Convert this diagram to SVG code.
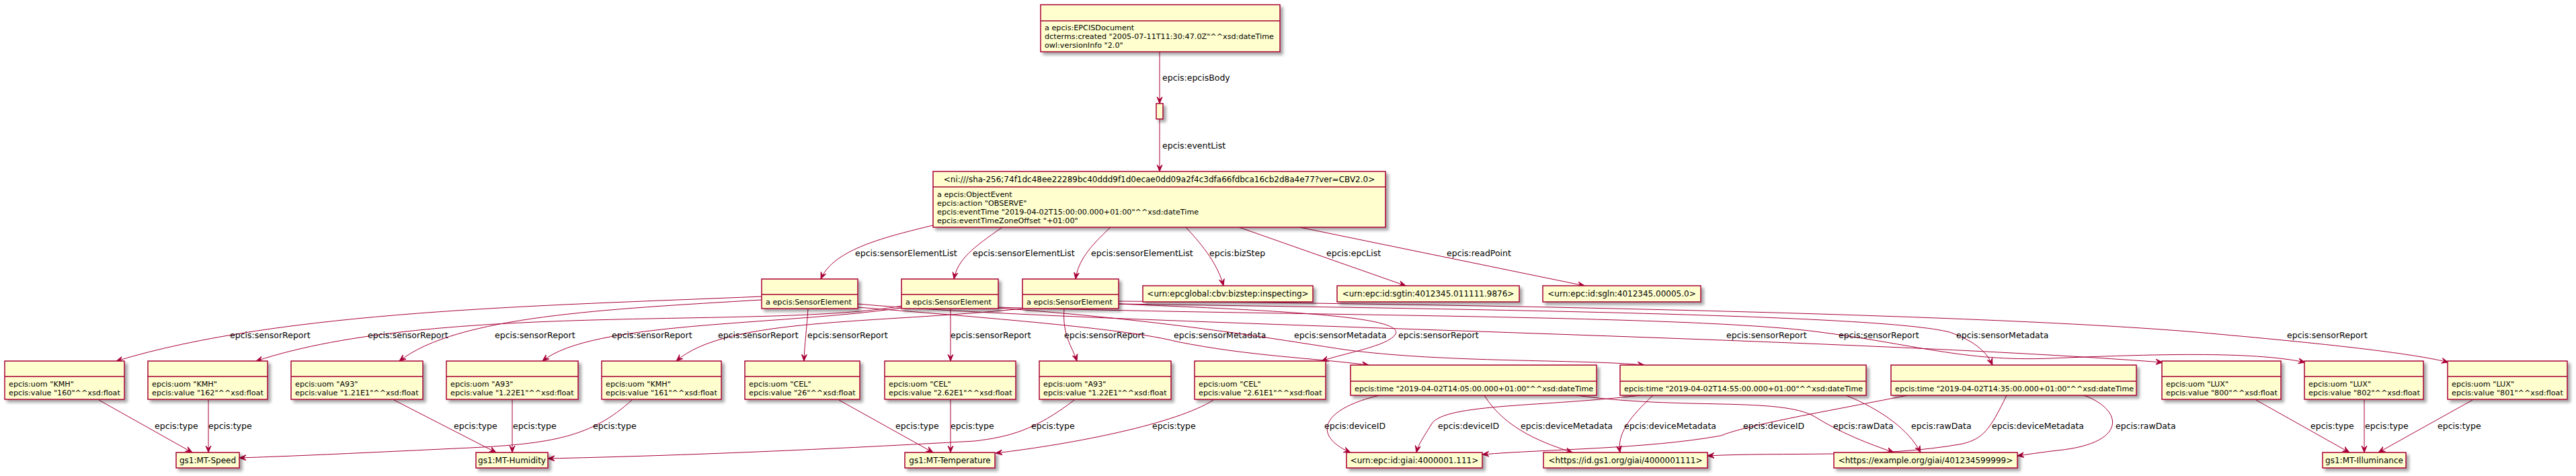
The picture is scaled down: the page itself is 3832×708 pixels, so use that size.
<svg xmlns="http://www.w3.org/2000/svg" width="3832" height="708" viewBox="0 0 3832 708">
<style>
.n rect{fill:#FEFECE;stroke:#A80036;stroke-width:1.5;filter:url(#sh)}
.n line{stroke:#A80036;stroke-width:1.5}
text{font-family:"DejaVu Sans","Liberation Sans",sans-serif;fill:#000}
.a{font-size:11.2px}
.h{font-size:12px;text-anchor:middle}
.e path{fill:none;stroke:#A80036;stroke-width:1;marker-end:url(#ah)}
.e text{font-size:12.5px}
</style>
<defs>
<filter id="sh" filterUnits="userSpaceOnUse" x="0" y="0" width="3832" height="708">
<feGaussianBlur in="SourceAlpha" stdDeviation="2"/>
<feOffset dx="4" dy="4" result="o"/>
<feComponentTransfer in="o" result="s"><feFuncA type="linear" slope="0.35"/></feComponentTransfer>
<feMerge><feMergeNode in="s"/><feMergeNode in="SourceGraphic"/></feMerge>
</filter>
<marker id="ah" markerUnits="userSpaceOnUse" markerWidth="11" markerHeight="10" refX="10" refY="5" orient="auto" viewBox="0 0 11 10">
<path d="M10,5 L0,1 L4,5 L0,9 Z" fill="#A80036" stroke="#A80036" stroke-width="1"/>
</marker>
</defs>
<rect width="3832" height="708" fill="#FFFFFF"/>

<g id="connectors" class="e">
<path d="M1725,77 L1725,154"/><text x="1729" y="120">epcis:epcisBody</text>
<path d="M1725,177 L1725,255"/><text x="1729" y="221">epcis:eventList</text>
<path d="M1388,335 C1320,352 1240,370 1221,415"/><text x="1272" y="381">epcis:sensorElementList</text>
<path d="M1491,338 C1448,368 1425,385 1419,415"/><text x="1447" y="381">epcis:sensorElementList</text>
<path d="M1652,338 C1620,368 1604,388 1600,415"/><text x="1623" y="381">epcis:sensorElementList</text>
<path d="M1764,338 C1792,368 1812,395 1820,425"/><text x="1799" y="381">epcis:bizStep</text>
<path d="M1843,338 L2091,425"/><text x="1973" y="381">epcis:epcList</text>
<path d="M1933,338 L2357,425"/><text x="2152" y="381">epcis:readPoint</text>

<path d="M1133,441 C800,455 420,462 173,537"/><text x="342" y="503">epcis:sensorReport</text>
<path d="M1341,455 C1150,490 650,448 381,537"/><text x="547" y="503">epcis:sensorReport</text>
<path d="M1133,446 C900,460 680,470 594,537"/><text x="736" y="503">epcis:sensorReport</text>
<path d="M1341,458 C1150,485 880,478 807,537"/><text x="910" y="503">epcis:sensorReport</text>
<path d="M1521,459 C1300,482 1080,472 1006,537"/><text x="1068" y="503">epcis:sensorReport</text>
<path d="M1202,459 C1200,490 1197,510 1196,537"/><text x="1201" y="503">epcis:sensorReport</text>
<path d="M1414,459 L1414,537"/><text x="1414" y="503">epcis:sensorReport</text>
<path d="M1583,459 C1580,500 1595,515 1602,537"/><text x="1583" y="503">epcis:sensorReport</text>
<path d="M1664,452 C1900,462 2090,470 2076,497 C2065,515 2000,525 1966,537"/><text x="2080" y="503">epcis:sensorReport</text>
<path d="M1276,452 C1600,482 2700,500 3217,539"/><text x="2568" y="503">epcis:sensorReport</text>
<path d="M1485,457 C1900,470 2500,468 2700,493 C2850,512 2920,538 3050,533 C3200,527 3350,522 3429,539"/><text x="2735" y="503">epcis:sensorReport</text>
<path d="M1664,448 C2200,452 3000,468 3300,497 C3500,515 3600,528 3642,539"/><text x="3402" y="503">epcis:sensorReport</text>
<path d="M1276,457 C1500,475 1680,490 1750,508 C1860,530 1950,532 2036,543"/><text x="1746" y="503">epcis:sensorMetadata</text>
<path d="M1485,458 C1750,478 1900,505 2000,520 C2150,540 2350,534 2446,543"/><text x="1925" y="503">epcis:sensorMetadata</text>
<path d="M1664,452 C2200,460 2800,468 2900,494 C2940,508 2956,525 2964,543"/><text x="2910" y="503">epcis:sensorMetadata</text>

<path d="M2052,588 C1960,610 1955,650 2009,673"/><text x="1970" y="638">epcis:deviceID</text>
<path d="M2208,588 C2240,640 2300,660 2339,673"/><text x="2262" y="638">epcis:deviceMetadata</text>
<path d="M2345,588 C2500,610 2650,590 2700,620 C2740,645 2780,660 2817,673"/><text x="2727" y="638">epcis:rawData</text>
<path d="M2440,588 C2300,605 2150,600 2130,630 C2118,650 2110,660 2107,673"/><text x="2139" y="638">epcis:deviceID</text>
<path d="M2459,588 C2425,620 2405,645 2410,673"/><text x="2416" y="638">epcis:deviceMetadata</text>
<path d="M2746,588 C2800,610 2840,640 2857,673"/><text x="2843" y="638">epcis:rawData</text>
<path d="M2838,588 C2700,615 2600,632 2560,648 C2450,668 2300,668 2205,676"/><text x="2593" y="638">epcis:deviceID</text>
<path d="M2985,588 C2960,640 2950,652 2920,660 C2800,682 2650,672 2540,678"/><text x="2963" y="638">epcis:deviceMetadata</text>
<path d="M3100,588 C3160,610 3165,660 3060,670 C3035,673 3015,676 3001,678"/><text x="3147" y="638">epcis:rawData</text>

<path d="M147,595 L286,673"/><text x="230" y="638">epcis:type</text>
<path d="M310,595 L310,673"/><text x="310" y="638">epcis:type</text>
<path d="M940,595 C880,650 820,660 700,666 C550,673 450,678 356,681"/><text x="882" y="638">epcis:type</text>
<path d="M586,595 L738,673"/><text x="675" y="638">epcis:type</text>
<path d="M762,595 L762,673"/><text x="763" y="638">epcis:type</text>
<path d="M1598,595 C1540,640 1500,650 1450,656 C1200,670 1000,678 815,682"/><text x="1534" y="638">epcis:type</text>
<path d="M1248,595 L1388,673"/><text x="1332" y="638">epcis:type</text>
<path d="M1414,595 L1414,673"/><text x="1414" y="638">epcis:type</text>
<path d="M1805,595 C1750,630 1600,660 1481,674"/><text x="1714" y="638">epcis:type</text>
<path d="M3356,595 L3495,673"/><text x="3437" y="638">epcis:type</text>
<path d="M3517,595 L3517,673"/><text x="3518" y="638">epcis:type</text>
<path d="M3678,595 L3538,673"/><text x="3626" y="638">epcis:type</text>
</g>

<g id="doc" class="n"><rect x="1548" y="7" width="356" height="70"/><line x1="1548" y1="31" x2="1904" y2="31"/>
<text class="a" x="1554" y="45">a epcis:EPCISDocument</text>
<text class="a" x="1554" y="58">dcterms:created "2005-07-11T11:30:47.0Z"^^xsd:dateTime</text>
<text class="a" x="1554" y="71">owl:versionInfo "2.0"</text></g>
<g id="body" class="n"><rect x="1720" y="154" width="10" height="23"/></g>
<g id="event" class="n"><rect x="1388" y="255" width="673" height="83"/><line x1="1388" y1="278" x2="2061" y2="278"/>
<text class="h" x="1724.5" y="271">&lt;ni:///sha-256;74f1dc48ee22289bc40ddd9f1d0ecae0dd09a2f4c3dfa66fdbca16cb2d8a4e77?ver=CBV2.0&gt;</text>
<text class="a" x="1394" y="293">a epcis:ObjectEvent</text>
<text class="a" x="1394" y="306">epcis:action "OBSERVE"</text>
<text class="a" x="1394" y="319">epcis:eventTime "2019-04-02T15:00:00.000+01:00"^^xsd:dateTime</text>
<text class="a" x="1394" y="332">epcis:eventTimeZoneOffset "+01:00"</text></g>

<g id="se1" class="n"><rect x="1133" y="415" width="143" height="44"/><line x1="1133" y1="438" x2="1276" y2="438"/><text class="a" x="1139" y="453">a epcis:SensorElement</text></g>
<g id="se2" class="n"><rect x="1341" y="415" width="144" height="44"/><line x1="1341" y1="438" x2="1485" y2="438"/><text class="a" x="1347" y="453">a epcis:SensorElement</text></g>
<g id="se3" class="n"><rect x="1521" y="415" width="143" height="44"/><line x1="1521" y1="438" x2="1664" y2="438"/><text class="a" x="1527" y="453">a epcis:SensorElement</text></g>

<g id="bizstep" class="n"><rect x="1700" y="425" width="253" height="24"/><text class="h" x="1826.5" y="441">&lt;urn:epcglobal:cbv:bizstep:inspecting&gt;</text></g>
<g id="sgtin" class="n"><rect x="1989" y="425" width="271" height="24"/><text class="h" x="2124.5" y="441">&lt;urn:epc:id:sgtin:4012345.011111.9876&gt;</text></g>
<g id="sgln" class="n"><rect x="2295" y="425" width="235" height="24"/><text class="h" x="2412.5" y="441">&lt;urn:epc:id:sgln:4012345.00005.0&gt;</text></g>

<g id="v1" class="n"><rect x="7" y="537" width="178" height="57"/><line x1="7" y1="560" x2="185" y2="560"/><text class="a" x="13" y="575">epcis:uom "KMH"</text><text class="a" x="13" y="588">epcis:value "160"^^xsd:float</text></g>
<g id="v2" class="n"><rect x="220" y="537" width="178" height="57"/><line x1="220" y1="560" x2="398" y2="560"/><text class="a" x="226" y="575">epcis:uom "KMH"</text><text class="a" x="226" y="588">epcis:value "162"^^xsd:float</text></g>
<g id="v3" class="n"><rect x="433" y="537" width="196" height="57"/><line x1="433" y1="560" x2="629" y2="560"/><text class="a" x="439" y="575">epcis:uom "A93"</text><text class="a" x="439" y="588">epcis:value "1.21E1"^^xsd:float</text></g>
<g id="v4" class="n"><rect x="664" y="537" width="196" height="57"/><line x1="664" y1="560" x2="860" y2="560"/><text class="a" x="670" y="575">epcis:uom "A93"</text><text class="a" x="670" y="588">epcis:value "1.22E1"^^xsd:float</text></g>
<g id="v5" class="n"><rect x="895" y="537" width="178" height="57"/><line x1="895" y1="560" x2="1073" y2="560"/><text class="a" x="901" y="575">epcis:uom "KMH"</text><text class="a" x="901" y="588">epcis:value "161"^^xsd:float</text></g>
<g id="v6" class="n"><rect x="1108" y="537" width="171" height="57"/><line x1="1108" y1="560" x2="1279" y2="560"/><text class="a" x="1114" y="575">epcis:uom "CEL"</text><text class="a" x="1114" y="588">epcis:value "26"^^xsd:float</text></g>
<g id="v7" class="n"><rect x="1316" y="537" width="195" height="57"/><line x1="1316" y1="560" x2="1511" y2="560"/><text class="a" x="1322" y="575">epcis:uom "CEL"</text><text class="a" x="1322" y="588">epcis:value "2.62E1"^^xsd:float</text></g>
<g id="v8" class="n"><rect x="1546" y="537" width="196" height="57"/><line x1="1546" y1="560" x2="1742" y2="560"/><text class="a" x="1552" y="575">epcis:uom "A93"</text><text class="a" x="1552" y="588">epcis:value "1.22E1"^^xsd:float</text></g>
<g id="v9" class="n"><rect x="1777" y="537" width="195" height="57"/><line x1="1777" y1="560" x2="1972" y2="560"/><text class="a" x="1783" y="575">epcis:uom "CEL"</text><text class="a" x="1783" y="588">epcis:value "2.61E1"^^xsd:float</text></g>

<g id="m1" class="n"><rect x="2009" y="543" width="366" height="45"/><line x1="2009" y1="567" x2="2375" y2="567"/><text class="a" x="2015" y="582">epcis:time "2019-04-02T14:05:00.000+01:00"^^xsd:dateTime</text></g>
<g id="m2" class="n"><rect x="2410" y="543" width="366" height="45"/><line x1="2410" y1="567" x2="2776" y2="567"/><text class="a" x="2416" y="582">epcis:time "2019-04-02T14:55:00.000+01:00"^^xsd:dateTime</text></g>
<g id="m3" class="n"><rect x="2813" y="543" width="365" height="45"/><line x1="2813" y1="567" x2="3178" y2="567"/><text class="a" x="2819" y="582">epcis:time "2019-04-02T14:35:00.000+01:00"^^xsd:dateTime</text></g>

<g id="x1" class="n"><rect x="3216" y="537" width="177" height="57"/><line x1="3216" y1="560" x2="3393" y2="560"/><text class="a" x="3222" y="575">epcis:uom "LUX"</text><text class="a" x="3222" y="588">epcis:value "800"^^xsd:float</text></g>
<g id="x2" class="n"><rect x="3428" y="537" width="177" height="57"/><line x1="3428" y1="560" x2="3605" y2="560"/><text class="a" x="3434" y="575">epcis:uom "LUX"</text><text class="a" x="3434" y="588">epcis:value "802"^^xsd:float</text></g>
<g id="x3" class="n"><rect x="3641" y="537" width="178" height="57"/><line x1="3641" y1="560" x2="3819" y2="560"/><text class="a" x="3647" y="575">epcis:uom "LUX"</text><text class="a" x="3647" y="588">epcis:value "801"^^xsd:float</text></g>

<g id="speed" class="n"><rect x="262" y="673" width="94" height="23"/><text class="h" x="309" y="689">gs1:MT-Speed</text></g>
<g id="humidity" class="n"><rect x="708" y="673" width="107" height="23"/><text class="h" x="761.5" y="689">gs1:MT-Humidity</text></g>
<g id="temperature" class="n"><rect x="1346" y="673" width="134" height="23"/><text class="h" x="1413" y="689">gs1:MT-Temperature</text></g>
<g id="illuminance" class="n"><rect x="3455" y="673" width="124" height="23"/><text class="h" x="3517" y="689">gs1:MT-Illuminance</text></g>
<g id="giai1" class="n"><rect x="2003" y="673" width="202" height="23"/><text class="h" x="2104" y="689">&lt;urn:epc:id:giai:4000001.111&gt;</text></g>
<g id="giai2" class="n"><rect x="2296" y="673" width="244" height="23"/><text class="h" x="2418" y="689">&lt;https://id.gs1.org/giai/4000001111&gt;</text></g>
<g id="giai3" class="n"><rect x="2728" y="673" width="273" height="23"/><text class="h" x="2864.5" y="689">&lt;https://example.org/giai/401234599999&gt;</text></g>
</svg>
